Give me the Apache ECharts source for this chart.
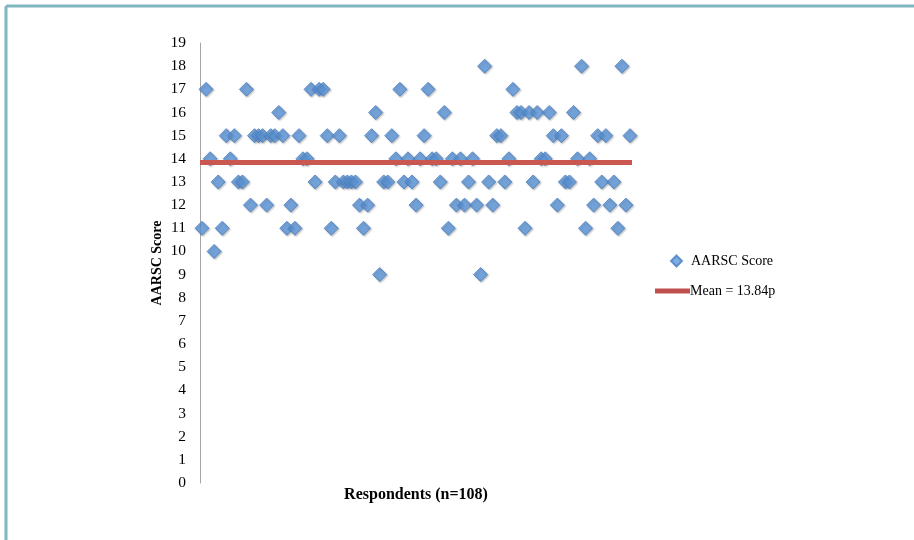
<!DOCTYPE html>
<html>
<head>
<meta charset="utf-8">
<script src="https://cdn.jsdelivr.net/npm/echarts@6/dist/echarts.min.js"></script>
<style>
html,body{margin:0;padding:0;background:#fff;}
#chart{width:914px;height:540px;}
</style>
</head>
<body>
<div id="chart"></div>
<script>
// Scores per respondent
var scores = [
  11,17,14,10,13,11,15,14,15,13,
  13,17,12,15,15,15,12,15,15,16,
  15,11,12,11,15,14,14,17,13,17,
  17,15,11,13,15,13,13,13,13,12,
  11,12,15,16,9,13,13,15,14,17,
  13,14,13,12,14,15,17,14,14,13,
  16,11,14,12,14,12,13,14,12,9,
  18,13,12,15,15,13,14,17,16,16,
  11,16,13,16,14,14,16,15,12,15,
  13,13,16,14,18,11,14,12,15,13,
  15,12,13,11,18,12,15
];
var respondents = scores.map(function(_, i){ return String(i + 1); });
var MEAN = 13.84;
var scoreName = 'AARSC Score';
var meanName = 'Mean = 13.84p';
var yTicks = [0,1,2,3,4,5,6,7,8,9,10,11,12,13,14,15,16,17,18,19];

var serif = '"Liberation Serif", "DejaVu Serif", serif';
var chart = echarts.init(document.getElementById('chart'), null, {renderer:'canvas'});
chart.setOption({
  animation: false,
  backgroundColor: '#ffffff',
  graphic: [
    {type:'line', shape:{x1:6, y1:6, x2:914, y2:6}, style:{stroke:'#7fb6bf', lineWidth:3}},
    {type:'line', shape:{x1:6, y1:6, x2:6, y2:540}, style:{stroke:'#7fb6bf', lineWidth:3}}
  ],
  grid: {left:200, right:282, top:43, bottom:57, containLabel:false},
  xAxis: {
    type:'category', data: respondents, boundaryGap:true,
    axisLine:{show:false}, axisTick:{show:false}, axisLabel:{show:false},
    splitLine:{show:false},
    name:'Respondents (n=108)', nameLocation:'middle', nameGap:4,
    nameTextStyle:{fontFamily:serif, fontWeight:'bold', fontSize:16, color:'#000'}
  },
  yAxis: {
    type:'value', min:yTicks[0], max:yTicks[yTicks.length-1], interval:1,
    axisLine:{show:true, lineStyle:{color:'#a6a6a6', width:1}},
    axisTick:{show:false},
    axisLabel:{fontFamily:serif, fontSize:15.5, color:'#000', margin:14},
    splitLine:{show:false},
    name:'AARSC Score', nameLocation:'middle', nameGap:36, nameRotate:90,
    nameTextStyle:{fontFamily:serif, fontWeight:'bold', fontSize:14, color:'#000'}
  },
  legend: [
    {
      data:[{name:scoreName, icon:'diamond'}],
      left:665, top:249, orient:'vertical',
      itemWidth:11, itemHeight:11, itemGap:10,
      textStyle:{fontFamily:serif, fontSize:14, color:'#000', padding:[0,0,0,4]}
    },
    {
      data:[{name:meanName, icon:'rect'}],
      left:650, top:279, orient:'vertical',
      itemWidth:35, itemHeight:5,
      textStyle:{fontFamily:serif, fontSize:14, color:'#000', padding:[0,0,0,-5]}
    }
  ],
  series: [
    {
      name: meanName, type:'line', data:[], symbol:'none', z:1,
      color:'#c0504d',
      lineStyle:{color:'#c0504d', width:5},
      markLine:{
        silent:true, symbol:['none','none'], label:{show:false},
        lineStyle:{color:'#c9564f', width:5, type:'solid'},
        data:[{yAxis: MEAN}]
      }
    },
    {
      name: scoreName, type:'scatter', data: scores, z:3,
      symbol:'diamond', symbolSize:14,
      itemStyle:{
        color:'#5e98dc', borderColor:'#4a80c4', borderWidth:1,
        shadowBlur:2, shadowOffsetX:1, shadowOffsetY:1, shadowColor:'rgba(0,0,0,0.3)'
      }
    }
  ]
});
</script>
</body>
</html>
